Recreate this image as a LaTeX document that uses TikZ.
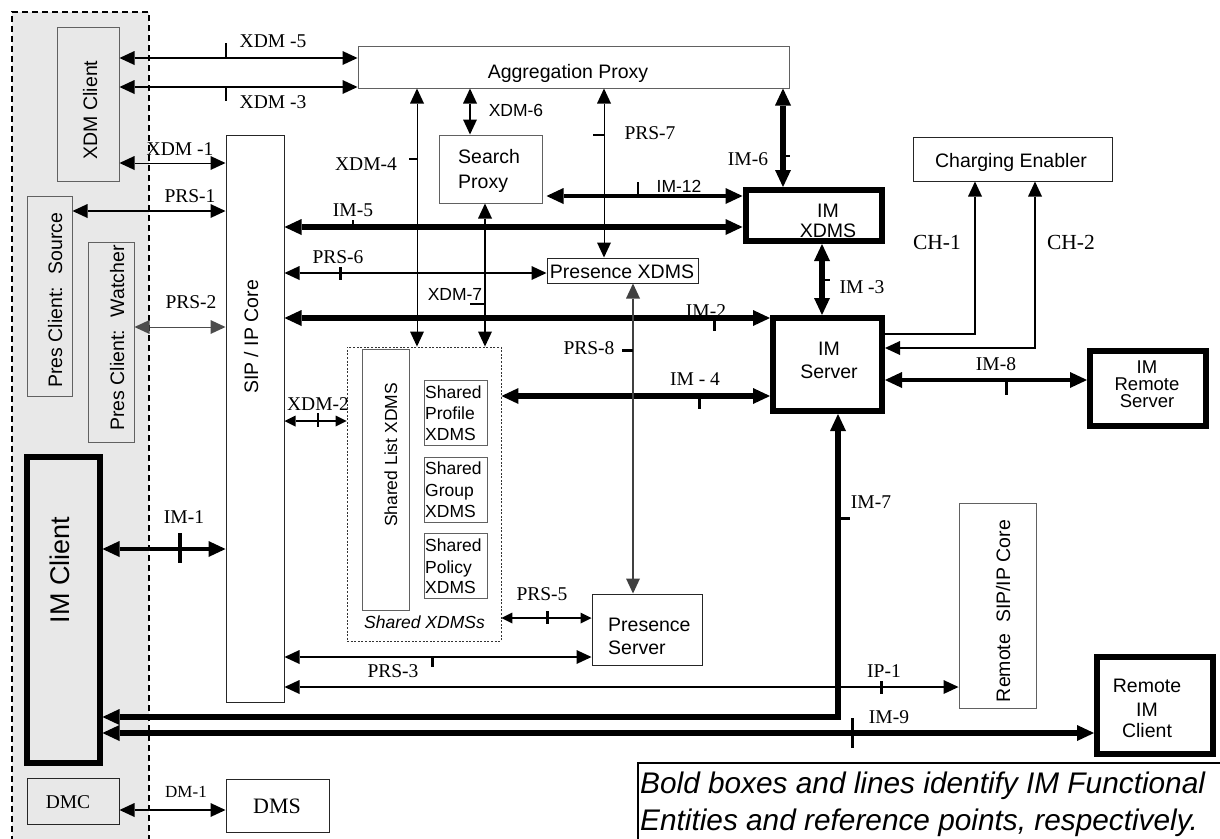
\documentclass[tikz,border=0pt]{standalone}
\usepackage{fontspec}
\setmainfont{Liberation Sans}
\newfontfamily\tnr{Liberation Serif}
\usetikzlibrary{arrows.meta}

% box from its border-line corners (x1,y1)-(x2,y2)
\newcommand\ebox[6]{\node[#2,minimum width={#5pt-#3pt},minimum height={#6pt-#4pt}] (#1) at ({(#3+#5)/2},{(#4+#6)/2}) {};}
% one line of text
\newcommand\tline[5]{\node[#2] (#1) at (#3,#4) {#5};}

\begin{document}
\begin{tikzpicture}[x=1pt,y=-1pt,
  thinbox/.style={draw=black!62, line width=1pt, inner sep=0pt},
  darkbox/.style={draw=black!85, line width=1pt, inner sep=0pt},
  boldbox/.style={draw=black, line width=6pt, inner sep=0pt},
  dotbox/.style={draw=black!80, line width=0.9pt, dash pattern=on 2pt off 1.6pt, inner sep=0pt},
  legbox/.style={draw=black, line width=1.5pt, inner sep=0pt},
  txt/.style={inner sep=0pt, anchor=base, font=\fontsize{19.5}{22}\selectfont},
  txtl/.style={txt, anchor=base west},
  ttxt/.style={inner sep=0pt, anchor=base, font=\fontsize{18.5}{20}\selectfont},
  stxt/.style={inner sep=0pt, anchor=base west, font=\fontsize{17.5}{20}\selectfont},
  vtxt/.style={txt, rotate=90},
  lab/.style={inner sep=0pt, anchor=base, font=\tnr\fontsize{19.5}{22}\selectfont},
  slab/.style={inner sep=0pt, anchor=base, font=\fontsize{17.5}{20}\selectfont},
  conn/.style={line width=#1, >={Triangle[length=15pt,width=14pt,line width=0pt]}, <->},
  sconn/.style={line width=#1, >={Triangle[length=11pt,width=11pt,line width=0pt]}, <->},
  bconn/.style={line width=#1, >={Triangle[length=17pt,width=16pt,line width=0pt]}, <->},
  tick/.style={line width=#1}
]
\useasboundingbox (0,0) rectangle (1220,838);

% client-side area
\fill[black!9] (12,12) rectangle (149,845);
\draw[line width=1.5pt, dash pattern=on 6pt off 4pt] (12,842) -- (12,12) -- (149,12) -- (149,842);

% functional entities
\ebox{xdmc}{thinbox}{57}{27}{119}{181}
\ebox{pcs}{thinbox}{27}{196}{72}{396}
\ebox{pcw}{thinbox}{88}{242}{134}{442}
\ebox{imc}{boldbox}{26.5}{457}{99.5}{762.5}
\ebox{dmc}{darkbox}{27}{778}{119}{824}
\ebox{dms}{darkbox}{226}{779}{329}{832}
\ebox{sip}{darkbox}{226}{135}{284}{702}
\ebox{agg}{thinbox}{358}{46}{789}{88}
\ebox{srch}{thinbox}{439}{135}{542}{203}
\ebox{pxdms}{darkbox}{547}{258}{698}{283}
\ebox{imx}{boldbox}{745.5}{190}{881.5}{241}
\ebox{chg}{darkbox}{913}{137}{1112}{181}
\ebox{ims}{boldbox}{773}{318}{882}{411}
\ebox{imrs}{boldbox}{1090}{351}{1206}{426}
\ebox{shx}{dotbox}{347}{347}{501}{641}
\ebox{shl}{thinbox}{362}{349}{409}{610}
\ebox{shp}{thinbox}{424}{380}{487}{445}
\ebox{shg}{thinbox}{424}{457}{487}{522}
\ebox{shpo}{thinbox}{424}{533}{487}{598}
\ebox{prs}{darkbox}{592}{594}{702}{665}
\ebox{rsip}{thinbox}{959}{503}{1036}{708}
\ebox{rimc}{boldbox}{1097}{657}{1213}{754}
\ebox{legbox}{legbox}{638}{763}{1240}{860}

% entity names
\tline{xdmcT}{vtxt}{97}{110}{XDM Client}
\tline{pcsT}{vtxt}{62}{300}{Pres Client:~ Source}
\tline{pcwT}{vtxt}{124}{338}{Pres Client:~ Watcher}
\node[inner sep=0pt, anchor=base, rotate=90, font=\fontsize{27}{30}\selectfont] (imcT) at (69,570) {IM Client};
\tline{dmcT}{lab}{68}{808}{DMC}
\node[inner sep=0pt, anchor=base, font=\tnr\fontsize{22}{24}\selectfont] (dmsT) at (277,813) {DMS};
\tline{sipT}{vtxt}{258}{337}{SIP / IP Core}
\tline{aggT}{txt}{568}{78}{Aggregation Proxy}
\tline{srchT1}{txtl}{458}{163}{Search}
\tline{srchT2}{txtl}{458}{188}{Proxy}
\tline{pxdmsT}{txt}{622}{278}{Presence XDMS}
\tline{chgT}{txt}{1011}{167}{Charging Enabler}
\tline{imxT1}{txt}{828}{217}{IM}
\tline{imxT2}{txt}{828}{237}{XDMS}
\tline{imsT1}{txt}{829}{355}{IM}
\tline{imsT2}{txt}{829}{378}{Server}
\tline{imrsT1}{ttxt}{1147}{373}{IM}
\tline{imrsT2}{ttxt}{1147}{390}{Remote}
\tline{imrsT3}{ttxt}{1147}{407}{Server}
\tline{rimcT1}{txt}{1147}{692}{Remote}
\tline{rimcT2}{txt}{1147}{716}{IM}
\tline{rimcT3}{txt}{1147}{737}{Client}
\tline{prsT1}{txtl}{608}{631}{Presence}
\tline{prsT2}{txtl}{608}{654}{Server}
\node[inner sep=0pt, anchor=base, rotate=90, font=\fontsize{17.5}{20}\selectfont] (shlT) at (397,455) {Shared List XDMS};
\tline{shpT1}{stxt}{425}{398}{Shared}
\tline{shpT2}{stxt}{425}{419}{Profile}
\tline{shpT3}{stxt}{425}{440}{XDMS}
\tline{shgT1}{stxt}{425}{474}{Shared}
\tline{shgT2}{stxt}{425}{496}{Group}
\tline{shgT3}{stxt}{425}{517}{XDMS}
\tline{shpoT1}{stxt}{425}{551}{Shared}
\tline{shpoT2}{stxt}{425}{573}{Policy}
\tline{shpoT3}{stxt}{425}{593}{XDMS}
\node[inner sep=0pt, anchor=base, font=\itshape\fontsize{17.5}{20}\selectfont] (shxT) at (424.5,628) {Shared XDMSs};
\tline{rsipT}{vtxt}{1010}{611}{Remote~ SIP/IP Core}
\node[inner sep=0pt, anchor=base west, font=\itshape\fontsize{29.8}{33}\selectfont] (leg1) at (640,793) {Bold boxes and lines identify IM Functional};
\node[inner sep=0pt, anchor=base west, font=\itshape\fontsize{29.8}{33}\selectfont] (leg2) at (640,830) {Entities and reference points, respectively.};

% reference point names
\tline{l5}{lab}{273}{47}{XDM -5}
\tline{l3}{lab}{273}{108}{XDM -3}
\tline{l1}{lab}{180}{155}{XDM -1}
\tline{lp1}{lab}{190}{202}{PRS-1}
\tline{lx4}{lab}{366}{170}{XDM-4}
\tline{lim5}{lab}{353}{216}{IM-5}
\tline{lp6}{lab}{338}{263}{PRS-6}
\tline{lp2}{lab}{191}{308}{PRS-2}
\tline{lx2}{lab}{318}{410}{XDM-2}
\tline{lim1}{lab}{184}{523}{IM-1}
\tline{lx6}{slab}{516}{116}{XDM-6}
\tline{lp7}{lab}{650}{139}{PRS-7}
\tline{lim6}{lab}{748}{165}{IM-6}
\tline{lim12}{slab}{679}{192}{IM-12}
\tline{lx7}{slab}{455}{300}{XDM-7}
\tline{lp8}{lab}{589}{354}{PRS-8}
\tline{lim2}{lab}{706}{317}{IM-2}
\tline{lim4}{lab}{695}{385}{IM - 4}
\tline{lp5}{lab}{542}{600}{PRS-5}
\tline{lp3}{lab}{393}{677}{PRS-3}
\tline{lip1}{lab}{884}{677}{IP-1}
\tline{lim9}{lab}{889}{723}{IM-9}
\tline{lim7}{lab}{871}{508}{IM-7}
\tline{lim8}{lab}{996}{370}{IM-8}
\tline{lim3}{lab}{862}{293}{IM -3}
\node[inner sep=0pt, anchor=base, font=\tnr\fontsize{21.5}{24}\selectfont] (lch1) at (937,249) {CH-1};
\node[inner sep=0pt, anchor=base, font=\tnr\fontsize{21.5}{24}\selectfont] (lch2) at (1071,249) {CH-2};
\node[inner sep=0pt, anchor=base, font=\tnr\fontsize{17}{20}\selectfont] (ldm1) at (186,797) {DM-1};

% reference points
\draw[conn=2.5pt] (xdmc.east |- 0,58) -- (agg.west |- 0,58);
\draw[conn=2.5pt] (xdmc.east |- 0,87) -- (agg.west |- 0,87);
\draw[conn=1pt] (xdmc.east |- 0,163) -- (sip.west |- 0,163);
\draw[conn=1.8pt] (pcs.east |- 0,211) -- (sip.west |- 0,211);
\draw[conn=1pt, draw=black!70] (pcw.east |- 0,327) -- (sip.west |- 0,327);
\draw[bconn=4.5pt] (imc.east |- 0,549) -- (sip.west |- 0,549);
\draw[sconn=1.5pt] (sip.east |- 0,421) -- (shx.west |- 0,421);
\draw[bconn=5.5pt] (sip.east |- 0,227) -- (imx.west |- 0,227);
\draw[conn=2pt] (sip.east |- 0,273) -- (pxdms.west |- 0,273);
\draw[bconn=5.5pt] (sip.east |- 0,318) -- (ims.west |- 0,318);
\draw[bconn=5.5pt] (shx.east |- 0,396) -- (ims.west |- 0,396);
\draw[bconn=3.5pt, shorten <=4pt] (srch.east |- 0,196) -- (imx.west |- 0,196);
\draw[conn=1pt] (agg.south -| 417,0) -- (shx.north -| 417,0);
\draw[conn=2.5pt] (agg.south -| 470,0) -- (srch.north -| 470,0);
\draw[conn=2.5pt] (srch.south -| 485,0) -- (shx.north -| 485,0);
\draw[conn=1pt] (agg.south -| 604,0) -- (pxdms.north -| 604,0);
\draw[conn=1.5pt, draw=black!75] (pxdms.south -| 633,0) -- (prs.north -| 633,0);
\draw[bconn=5.5pt] (agg.south -| 783,0) -- (imx.north -| 783,0);
\draw[bconn=5.5pt] (imx.south -| 822,0) -- (ims.north -| 822,0);
\draw[conn=2pt, ->] (ims.east |- 0,334) -| (chg.south -| 975,0);
\draw[conn=2pt] (chg.south -| 1035,0) |- (ims.east |- 0,348);
\draw[bconn=4pt] (ims.east |- 0,380) -- (imrs.west |- 0,380);
\draw[bconn=5.5pt] (ims.south -| 838,0) |- (imc.east |- 0,717);
\draw[bconn=5.5pt] (imc.east |- 0,733) -- (rimc.west |- 0,733);
\draw[conn=1.5pt] (sip.east |- 0,687) -- (rsip.west |- 0,687);
\draw[conn=2.5pt] (sip.east |- 0,657) -- (prs.west |- 0,657);
\draw[sconn=1.5pt] (shx.east |- 0,618) -- (prs.west |- 0,618);
\draw[conn=2pt] (dmc.east |- 0,810) -- (dms.west |- 0,810);

% reference point ticks
\draw[tick=2.5pt] (226,43) -- (226,58);
\draw[tick=2.5pt] (226,88) -- (226,101);
\draw[tick=2.5pt] (353,220) -- (353,230);
\draw[tick=3pt] (340,267) -- (340,280);
\draw[tick=3.5pt] (180,533) -- (180,563);
\draw[tick=2.5pt] (318,413) -- (318,427);
\draw[tick=2pt] (409,159) -- (417,159);
\draw[tick=1.5pt] (593,135) -- (604,135);
\draw[tick=2pt] (783,156) -- (790,156);
\draw[tick=2pt] (638,182) -- (638,196);
\draw[tick=1.5pt] (470,304) -- (485,304);
\draw[tick=3pt] (622,350) -- (633,350);
\draw[tick=3pt] (714,318) -- (714,331);
\draw[tick=3pt] (699,396) -- (699,409);
\draw[tick=2pt] (822,280) -- (830,280);
\draw[tick=3pt] (1006,380) -- (1006,395);
\draw[tick=3pt] (838,518) -- (850,518);
\draw[tick=3pt] (547,611) -- (547,624);
\draw[tick=3pt] (432,657) -- (432,667);
\draw[tick=3pt] (881,681) -- (881,694);
\draw[tick=3pt] (852,718) -- (852,748);
\end{tikzpicture}
\end{document}
